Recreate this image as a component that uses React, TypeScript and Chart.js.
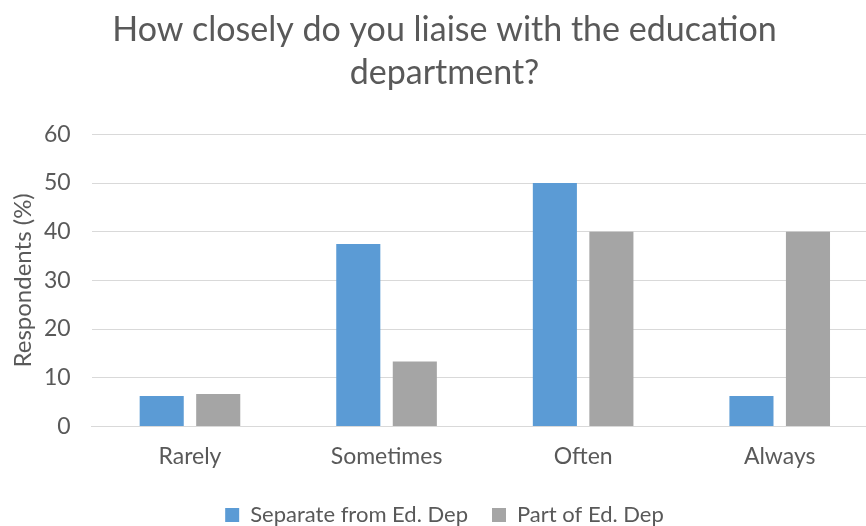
import React, { useEffect, useRef } from "react";
import { Chart, registerables } from "chart.js";

Chart.register(...registerables);

const categories = ["Rarely", "Sometimes", "Often", "Always"];
const separateValues = [6.25, 37.5, 50, 6.25];
const partValues = [6.67, 13.33, 40, 40];
const seriesNames = ["Separate from Ed. Dep", "Part of Ed. Dep"];
const titleLines = ["How closely do you liaise with the education", "department?"];
const yAxisTitle = "Respondents (%)";

const FONT = "Lato, 'Open Sans', sans-serif";
const TEXT = "#595959";

export default function App() {
  const ref = useRef<HTMLCanvasElement | null>(null);
  useEffect(() => {
    document.body.style.margin = "0";
    const chart = new Chart(ref.current!, {
      type: "bar",
      data: {
        labels: categories,
        datasets: [
          {
            label: seriesNames[0],
            data: separateValues,
            backgroundColor: "#5B9BD5",
            categoryPercentage: 0.575,
            barPercentage: 0.78,
          },
          {
            label: seriesNames[1],
            data: partValues,
            backgroundColor: "#A5A5A5",
            categoryPercentage: 0.575,
            barPercentage: 0.78,
          },
        ],
      },
      options: {
        responsive: false,
        animation: false,
        layout: { padding: { left: 11, right: 4, top: 0, bottom: 0 } },
        plugins: {
          title: {
            display: true,
            text: titleLines,
            color: TEXT,
            font: { family: FONT, size: 34, weight: "normal", lineHeight: 1.27 },
            padding: { top: 8, bottom: 40 },
          },
          legend: {
            display: true,
            position: "bottom",
            labels: {
              color: TEXT,
              font: { family: FONT, size: 22 },
              boxWidth: 14,
              boxHeight: 14,
              padding: 24,
            },
          },
          tooltip: { enabled: false },
        },
        scales: {
          x: {
            grid: { display: false },
            border: { display: true, color: "#D9D9D9", width: 1 },
            ticks: { color: TEXT, font: { family: FONT, size: 23 }, padding: 8 },
            afterFit: (scale: any) => {
              scale.height += 2;
            },
          },
          y: {
            min: 0,
            max: 60,
            ticks: { stepSize: 10, color: TEXT, font: { family: FONT, size: 23 }, padding: 21 },
            grid: { color: "#D9D9D9", drawTicks: false },
            border: { display: false },
            title: {
              display: true,
              text: yAxisTitle,
              color: TEXT,
              font: { family: FONT, size: 24, lineHeight: 1 },
              padding: { top: 0, bottom: -12 },
            },
          },
        },
      },
    });
    return () => chart.destroy();
  }, []);
  return (
    <div style={{ position: "absolute", left: 0, top: 0, width: 866, height: 526, overflow: "hidden", background: "#fff" }}>
      <canvas ref={ref} width={882} height={536} style={{ width: 882, height: 536, display: "block" }} />
    </div>
  );
}
